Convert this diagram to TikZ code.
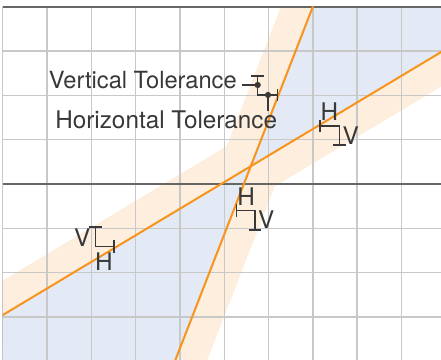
\documentclass[tikz,border=0pt]{standalone}
\usepackage{fontspec}
\setmainfont{TeX Gyre Heros}
\usetikzlibrary{calc,arrows.meta}

\definecolor{fitorange}{HTML}{F7941D}
\definecolor{bandpeach}{HTML}{FDEEDD}
\definecolor{wedgeblue}{HTML}{E3EAF5}
\definecolor{gridgray}{HTML}{C8C8C8}
\definecolor{framegray}{HTML}{666666}
\definecolor{inkgray}{HTML}{383838}

\begin{document}
\begin{tikzpicture}[
    fitline/.style={fitorange, line width=1.3pt},
    gridline/.style={gridgray, line width=0.9pt},
    frameline/.style={framegray, line width=1pt},
    tolmark/.style={inkgray, line width=1pt, {Bar[width=8pt]}-{Bar[width=8pt]}},
    leader/.style={inkgray, line width=1pt},
    lbl/.style={inkgray, inner sep=0pt, font=\fontsize{15.6}{18}\selectfont},
    dot/.style={circle, fill=inkgray, inner sep=0pt, minimum size=4pt}
]

    \useasboundingbox (-0.061,-3.973) rectangle (9.894,4.153);

    % Coordinates
    \coordinate (S1) at (3.693,-4.5);   % steep line, bottom
    \coordinate (S2) at (7.195,4.5);    % steep line, top
    \coordinate (F1) at (-0.5,-3.26);   % flat line, left
    \coordinate (F2) at (10.5,3.34);    % flat line, right
    \coordinate (X) at (intersection of S1--S2 and F1--F2);

    \begin{scope}
        \clip (0,-4.3) rectangle (10.2,4);

        % tolerance bands
        \fill[bandpeach] ($(S1)+(-0.72,0)$) -- ($(S2)+(-0.72,0)$)
            -- ($(S2)+(0.72,0)$) -- ($(S1)+(0.72,0)$) -- cycle;
        \fill[bandpeach] ($(F1)+(0,-0.78)$) -- ($(F1)+(0,0.78)$)
            -- ($(F2)+(0,0.78)$) -- ($(F2)+(0,-0.78)$) -- cycle;

        % wedges between the two lines
        \fill[wedgeblue] (X) -- (S2) -- (10.5,4.5) -- (F2) -- cycle;
        \fill[wedgeblue] (X) -- (F1) -- (-0.5,-4.5) -- (S1) -- cycle;

        % grid
        \foreach \x in {1,...,10}
            \draw[gridline] (\x,-4.3) -- (\x,4);
        \foreach \y in {-4,...,3}
            \draw[gridline] (0,\y) -- (10.2,\y);

        % frame and axis
        \draw[frameline] (0,-4.3) -- (0,4) -- (10.2,4);
        \draw[frameline] (0,0) -- (10.2,0);

        % fitted lines
        \draw[fitline] (S1) -- (S2);
        \draw[fitline] (F1) -- (F2);
    \end{scope}

    % Tolerance marks
    \coordinate (A1) at (5.756,2.460);
    \coordinate (A2) at (5.756,2.009);
    \coordinate (A3) at (6.221,2.009);
    \draw[tolmark] (A1) -- (A2) -- (A3);

    \coordinate (B1) at (7.147,1.309);
    \coordinate (B2) at (7.598,1.309);
    \coordinate (B3) at (7.598,0.865);
    \draw[tolmark] (B1) -- (B2) -- (B3);
    \node[lbl] (hB) at (7.373,1.633) {H};
    \node[lbl] (vB) at (7.858,1.098) {V};

    \coordinate (C1) at (5.260,-0.603);
    \coordinate (C2) at (5.695,-0.603);
    \coordinate (C3) at (5.695,-1.054);
    \draw[tolmark] (C1) -- (C2) -- (C3);
    \node[lbl] (hC) at (5.497,-0.275) {H};
    \node[lbl] (vC) at (5.950,-0.802) {V};

    \coordinate (D1) at (2.099,-0.948);
    \coordinate (D2) at (2.099,-1.415);
    \coordinate (D3) at (2.535,-1.415);
    \draw[tolmark] (D1) -- (D2) -- (D3);
    \node[lbl] (vD) at (1.795,-1.208) {V};
    \node[lbl] (hD) at (2.282,-1.754) {H};

    % Labels with leaders
    \node[dot] (d1) at ($(A1)!0.5!(A2)$) {};
    \node[dot] (d2) at ($(A2)!0.5!(A3)$) {};
    \node[lbl, font=\fontsize{15.2}{18}\selectfont, anchor=base east, inner xsep=3.4pt] (vt) at (5.409,2.160) {Vertical Tolerance};
    \node[lbl, anchor=base west] (ht) at (1.181,1.242) {Horizontal Tolerance};
    \draw[leader] (d1.center) -- (d1.center -| vt.east);
    \draw[leader] (d2.center) -- (d2.center |- ht.north);

\end{tikzpicture}
\end{document}
